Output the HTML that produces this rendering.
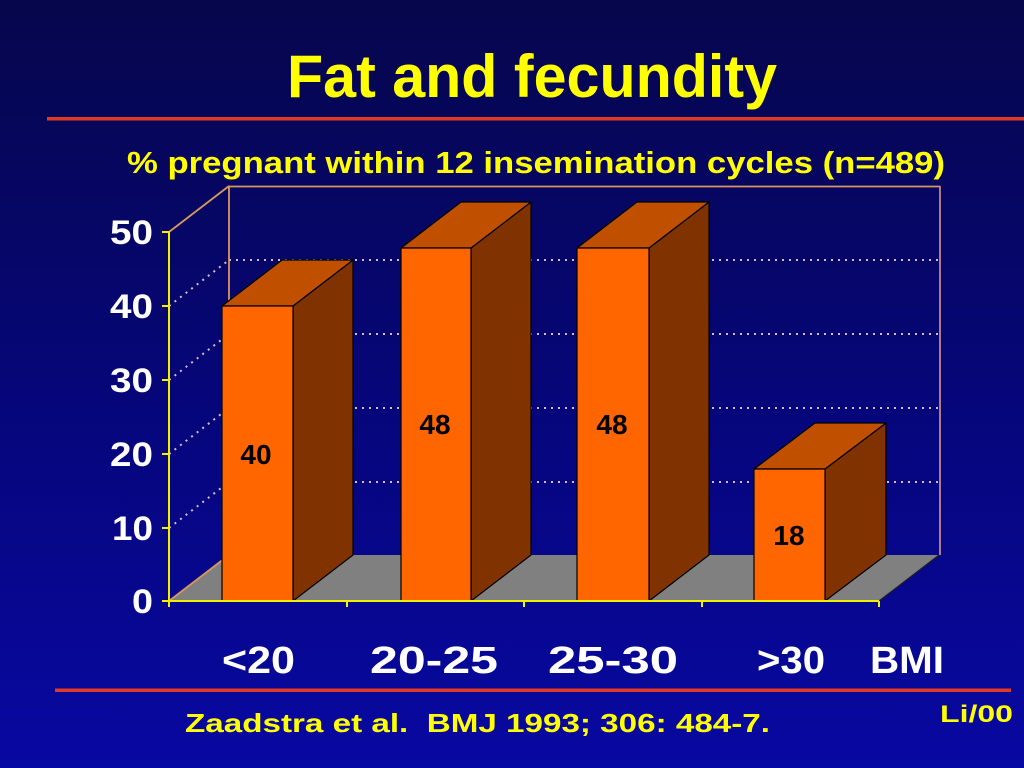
<!DOCTYPE html>
<html>
<head>
<meta charset="utf-8">
<style>
html,body{margin:0;padding:0;width:1024px;height:768px;overflow:hidden;}
svg{display:block;}
text{font-family:"Liberation Sans",sans-serif;font-weight:bold;}
</style>
</head>
<body>
<svg width="1024" height="768" viewBox="0 0 1024 768" xmlns="http://www.w3.org/2000/svg">
<defs>
<linearGradient id="bg" x1="0" y1="0" x2="0" y2="1">
<stop offset="0" stop-color="#06064c"/>
<stop offset="0.5" stop-color="#060678"/>
<stop offset="1" stop-color="#0808a2"/>
</linearGradient>
</defs>
<rect x="0" y="0" width="1024" height="768" fill="url(#bg)"/>

<!-- Title -->
<text x="532" y="97" font-size="60" fill="#ffff00" text-anchor="middle" textLength="490" lengthAdjust="spacingAndGlyphs">Fat and fecundity</text>
<rect x="47" y="117" width="977" height="3.5" fill="#e03a26"/>
<text x="536" y="173" font-size="31" fill="#ffff00" text-anchor="middle" textLength="818" lengthAdjust="spacingAndGlyphs">% pregnant within 12 insemination cycles (n=489)</text>

<!-- Floor -->
<polygon points="169,601 879,601 939,555 229,555" fill="#808080"/>
<line x1="879" y1="601" x2="939" y2="555" stroke="#202020" stroke-width="1.2"/>

<!-- Back wall gridlines -->
<g stroke="#d8bcbc" stroke-width="2" stroke-dasharray="2,5" fill="none">
<line x1="229" y1="260" x2="940" y2="260"/>
<line x1="229" y1="334" x2="940" y2="334"/>
<line x1="229" y1="408" x2="940" y2="408"/>
<line x1="229" y1="482" x2="940" y2="482"/>
<line x1="169" y1="306" x2="229" y2="260"/>
<line x1="169" y1="380" x2="229" y2="334"/>
<line x1="169" y1="454" x2="229" y2="408"/>
<line x1="169" y1="528" x2="229" y2="482"/>
</g>
<!-- wall borders -->
<g stroke="#d8985a" stroke-width="1.8" fill="none">
<line x1="229" y1="186.5" x2="940" y2="186.5"/>
<line x1="229" y1="186" x2="229" y2="555"/>
<line x1="169" y1="232" x2="229" y2="186"/>
<line x1="169" y1="601" x2="229" y2="555"/>
</g>
<line x1="940" y1="186" x2="940" y2="555" stroke="#c08890" stroke-width="1.8"/>

<!-- Bars -->
<g stroke="#000" stroke-width="1.2" stroke-linejoin="round">
<polygon points="293,306 353,260 353,555 293,601" fill="#803300"/>
<polygon points="222,306 282,260 353,260 293,306" fill="#c05000"/>
<rect x="222" y="306" width="71" height="295" fill="#ff6600"/>
<polygon points="471,248 531,202 531,555 471,601" fill="#803300"/>
<polygon points="401,248 461,202 531,202 471,248" fill="#c05000"/>
<rect x="401" y="248" width="70" height="353" fill="#ff6600"/>
<polygon points="649,248 709,202 709,555 649,601" fill="#803300"/>
<polygon points="577,248 637,202 709,202 649,248" fill="#c05000"/>
<rect x="577" y="248" width="72" height="353" fill="#ff6600"/>
<polygon points="825,469 886,423 886,555 825,601" fill="#803300"/>
<polygon points="754,469 815,423 886,423 825,469" fill="#c05000"/>
<rect x="754" y="469" width="71" height="132" fill="#ff6600"/>
</g>

<!-- value labels -->
<g font-size="28" fill="#000" text-anchor="middle">
<text x="256" y="464">40</text>
<text x="435" y="434">48</text>
<text x="612" y="434">48</text>
<text x="789" y="545">18</text>
</g>

<!-- Axes -->
<g stroke="#f0f000" stroke-width="2" fill="none">
<line x1="169" y1="231" x2="169" y2="602"/>
<line x1="168" y1="601" x2="879" y2="601"/>
<line x1="162" y1="232" x2="169" y2="232"/>
<line x1="162" y1="306" x2="169" y2="306"/>
<line x1="162" y1="380" x2="169" y2="380"/>
<line x1="162" y1="454" x2="169" y2="454"/>
<line x1="162" y1="528" x2="169" y2="528"/>
<line x1="162" y1="601" x2="169" y2="601"/>
<line x1="169" y1="601" x2="169" y2="607"/>
<line x1="347" y1="601" x2="347" y2="607"/>
<line x1="524" y1="601" x2="524" y2="607"/>
<line x1="702" y1="601" x2="702" y2="607"/>
<line x1="879" y1="601" x2="879" y2="607"/>
</g>

<!-- Y labels -->
<g font-size="34" fill="#ffffff">
<text x="110" y="244" textLength="43" lengthAdjust="spacingAndGlyphs">50</text>
<text x="110" y="318" textLength="43" lengthAdjust="spacingAndGlyphs">40</text>
<text x="110" y="392" textLength="43" lengthAdjust="spacingAndGlyphs">30</text>
<text x="110" y="466" textLength="43" lengthAdjust="spacingAndGlyphs">20</text>
<text x="112" y="540" textLength="41" lengthAdjust="spacingAndGlyphs">10</text>
<text x="132" y="613" textLength="21" lengthAdjust="spacingAndGlyphs">0</text>
</g>

<!-- Category labels -->
<g font-size="38" fill="#ffffff">
<text x="222" y="673" textLength="73" lengthAdjust="spacingAndGlyphs">&lt;20</text>
<text x="370" y="673" textLength="128" lengthAdjust="spacingAndGlyphs">20-25</text>
<text x="548" y="673" textLength="130" lengthAdjust="spacingAndGlyphs">25-30</text>
<text x="757" y="673" textLength="68" lengthAdjust="spacingAndGlyphs">&gt;30</text>
<text x="870" y="673" textLength="74" lengthAdjust="spacingAndGlyphs">BMI</text>
</g>

<!-- Bottom line & footer -->
<rect x="55" y="688.5" width="956" height="3.5" fill="#e03a26"/>
<text x="185" y="732" font-size="26" fill="#ffff00" textLength="585" lengthAdjust="spacingAndGlyphs">Zaadstra et al.&#160; BMJ 1993; 306: 484-7.</text>
<text x="940" y="722" font-size="24" fill="#ffff00" textLength="73" lengthAdjust="spacingAndGlyphs">Li/00</text>
</svg>
</body>
</html>
